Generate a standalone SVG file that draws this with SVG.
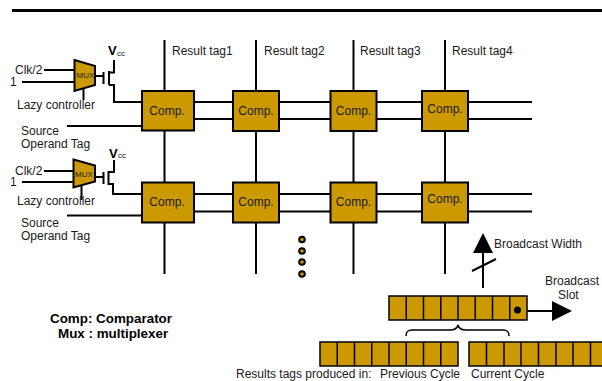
<svg xmlns="http://www.w3.org/2000/svg" width="602" height="381" viewBox="0 0 602 381">
<style>
text{font-family:"Liberation Sans",Arial,sans-serif;font-size:12px;fill:#1a1a1a}
.b{font-weight:bold;fill:#000}
.k{font-weight:bold;fill:#000;font-size:13.400px}
.v{font-weight:bold;fill:#000;font-size:13px}
.s{font-size:8px}
.w{stroke:#000;stroke-width:2;fill:none}
.comp{fill:#cc9900;stroke:#000;stroke-width:2}
.cell{fill:#cc9900;stroke:#000;stroke-width:1.5}
.mux{fill:#cc9900;stroke:#000;stroke-width:2}
.c{text-anchor:middle}
.dot{fill:#cc9900;stroke:#000;stroke-width:2}
</style>
<defs>
<path id="cell8" class="cell" d="M0 0H138V24H0Z M17.250 0V24 M34.500 0V24 M51.750 0V24 M69 0V24 M86.250 0V24 M103.500 0V24 M120.750 0V24"/>
</defs>
<rect id="rule" x="12" y="9" width="590" height="3" fill="#000"/>
<g id="connectors">
<path class="w" d="M164.500 40V274 M256 40V274 M353.500 40V274 M445 40V274"/>
<path class="w" d="M194 102H532 M194 119H532 M194 194H532 M194 211.500H532"/>
<path class="w" d="M44 70H75 M22 82H75 M83.500 88V100 M95 76H103.500 M67 126H142"/>
<path class="w" d="M44 171H74 M22 182H74 M81.500 186V200 M95 177H103.500 M67 215.500H142"/>
<path class="w" d="M103.500 72V84 M109 71V85 M109 72.500H114V60 M109 85H114V102H142"/>
<path class="w" d="M103.500 172V184 M108.500 171V185 M108.500 172H114V160 M108.500 184H113V194H142"/>
<path class="w" d="M483 288V250 M472 271L496 259"/>
<path class="w" d="M526 311H552"/>
<path fill="none" stroke="#000" stroke-width="1.500" d="M406 336C406 331 408 330 412 330H450C454 330 457 329 458 325C459 329 462 330 466 330H503C507 330 509 331 509 336"/>
</g>
<g id="mux1"><path class="mux" d="M74.500 60L95 66V85L74.500 91Z"/><text x="76.500" y="78" class="s">MUX</text></g>
<g id="mux2"><path class="mux" d="M73.500 159.500L95 165.500V181.500L73.500 187.500Z"/><text x="75" y="177" class="s">MUX</text></g>
<g id="comp-1-1"><rect class="comp" x="142" y="91" width="52" height="39.500"/><text x="167" y="115" class="c">Comp.</text></g>
<g id="comp-1-2"><rect class="comp" x="233" y="91" width="46" height="40"/><text x="256" y="115" class="c">Comp.</text></g>
<g id="comp-1-3"><rect class="comp" x="330.500" y="91" width="46" height="40"/><text x="353.500" y="115" class="c">Comp.</text></g>
<g id="comp-1-4"><rect class="comp" x="422" y="91" width="46" height="40"/><text x="445" y="113" class="c">Comp.</text></g>
<g id="comp-2-1"><rect class="comp" x="142" y="182.500" width="52" height="40"/><text x="167" y="206" class="c">Comp.</text></g>
<g id="comp-2-2"><rect class="comp" x="233" y="182.500" width="46" height="40"/><text x="256" y="206" class="c">Comp.</text></g>
<g id="comp-2-3"><rect class="comp" x="330.500" y="182.500" width="46" height="40"/><text x="353.500" y="206" class="c">Comp.</text></g>
<g id="comp-2-4"><rect class="comp" x="422" y="182.500" width="46" height="40"/><text x="445" y="203" class="c">Comp.</text></g>
<g id="labels">
<text x="172" y="55">Result tag1</text><text x="264" y="55">Result tag2</text><text x="360" y="55">Result tag3</text><text x="452" y="55">Result tag4</text>
<text x="15" y="74">Clk/2</text><text x="10" y="86">1</text>
<text x="108" y="55" class="v">V</text><text x="117" y="55.500" class="s">cc</text>
<text x="17" y="109">Lazy controller</text>
<text x="21" y="135">Source</text><text x="21" y="148">Operand Tag</text>
<text x="15" y="175">Clk/2</text><text x="10" y="186">1</text>
<text x="109" y="157.500" class="v">V</text><text x="118" y="158" class="s">cc</text>
<text x="17" y="205">Lazy controller</text>
<text x="21" y="227">Source</text><text x="21" y="240">Operand Tag</text>
<text x="50" y="322.500" class="k">Comp: Comparator</text><text x="58" y="338" class="k">Mux : multiplexer</text>
<text x="494" y="248">Broadcast Width</text>
<text x="545" y="285">Broadcast</text><text x="558" y="299">Slot</text>
<text x="236" y="378">Results tags produced in:</text><text x="380" y="378">Previous Cycle</text><text x="471" y="378">Current Cycle</text>
</g>
<g id="dots">
<circle class="dot" cx="302" cy="239.500" r="2.800"/><circle class="dot" cx="302" cy="251" r="2.800"/><circle class="dot" cx="302" cy="262" r="2.800"/><circle class="dot" cx="302" cy="274" r="2.800"/>
</g>
<g id="slot"><use href="#cell8" x="389" y="296"/><circle cx="517.500" cy="310" r="3.500" fill="#000"/></g>
<path id="arrow-up" d="M483 233L473 253H493Z" fill="#000"/>
<path id="arrow-right" d="M572 311L552 301V321Z" fill="#000"/>
<g id="prev"><use href="#cell8" x="320" y="342"/></g>
<g id="curr"><path class="cell" d="M469 342H603V366H469Z M486.500 342V366 M504 342V366 M521 342V366 M538.500 342V366 M556 342V366 M573 342V366 M590.500 342V366"/></g>
</svg>
